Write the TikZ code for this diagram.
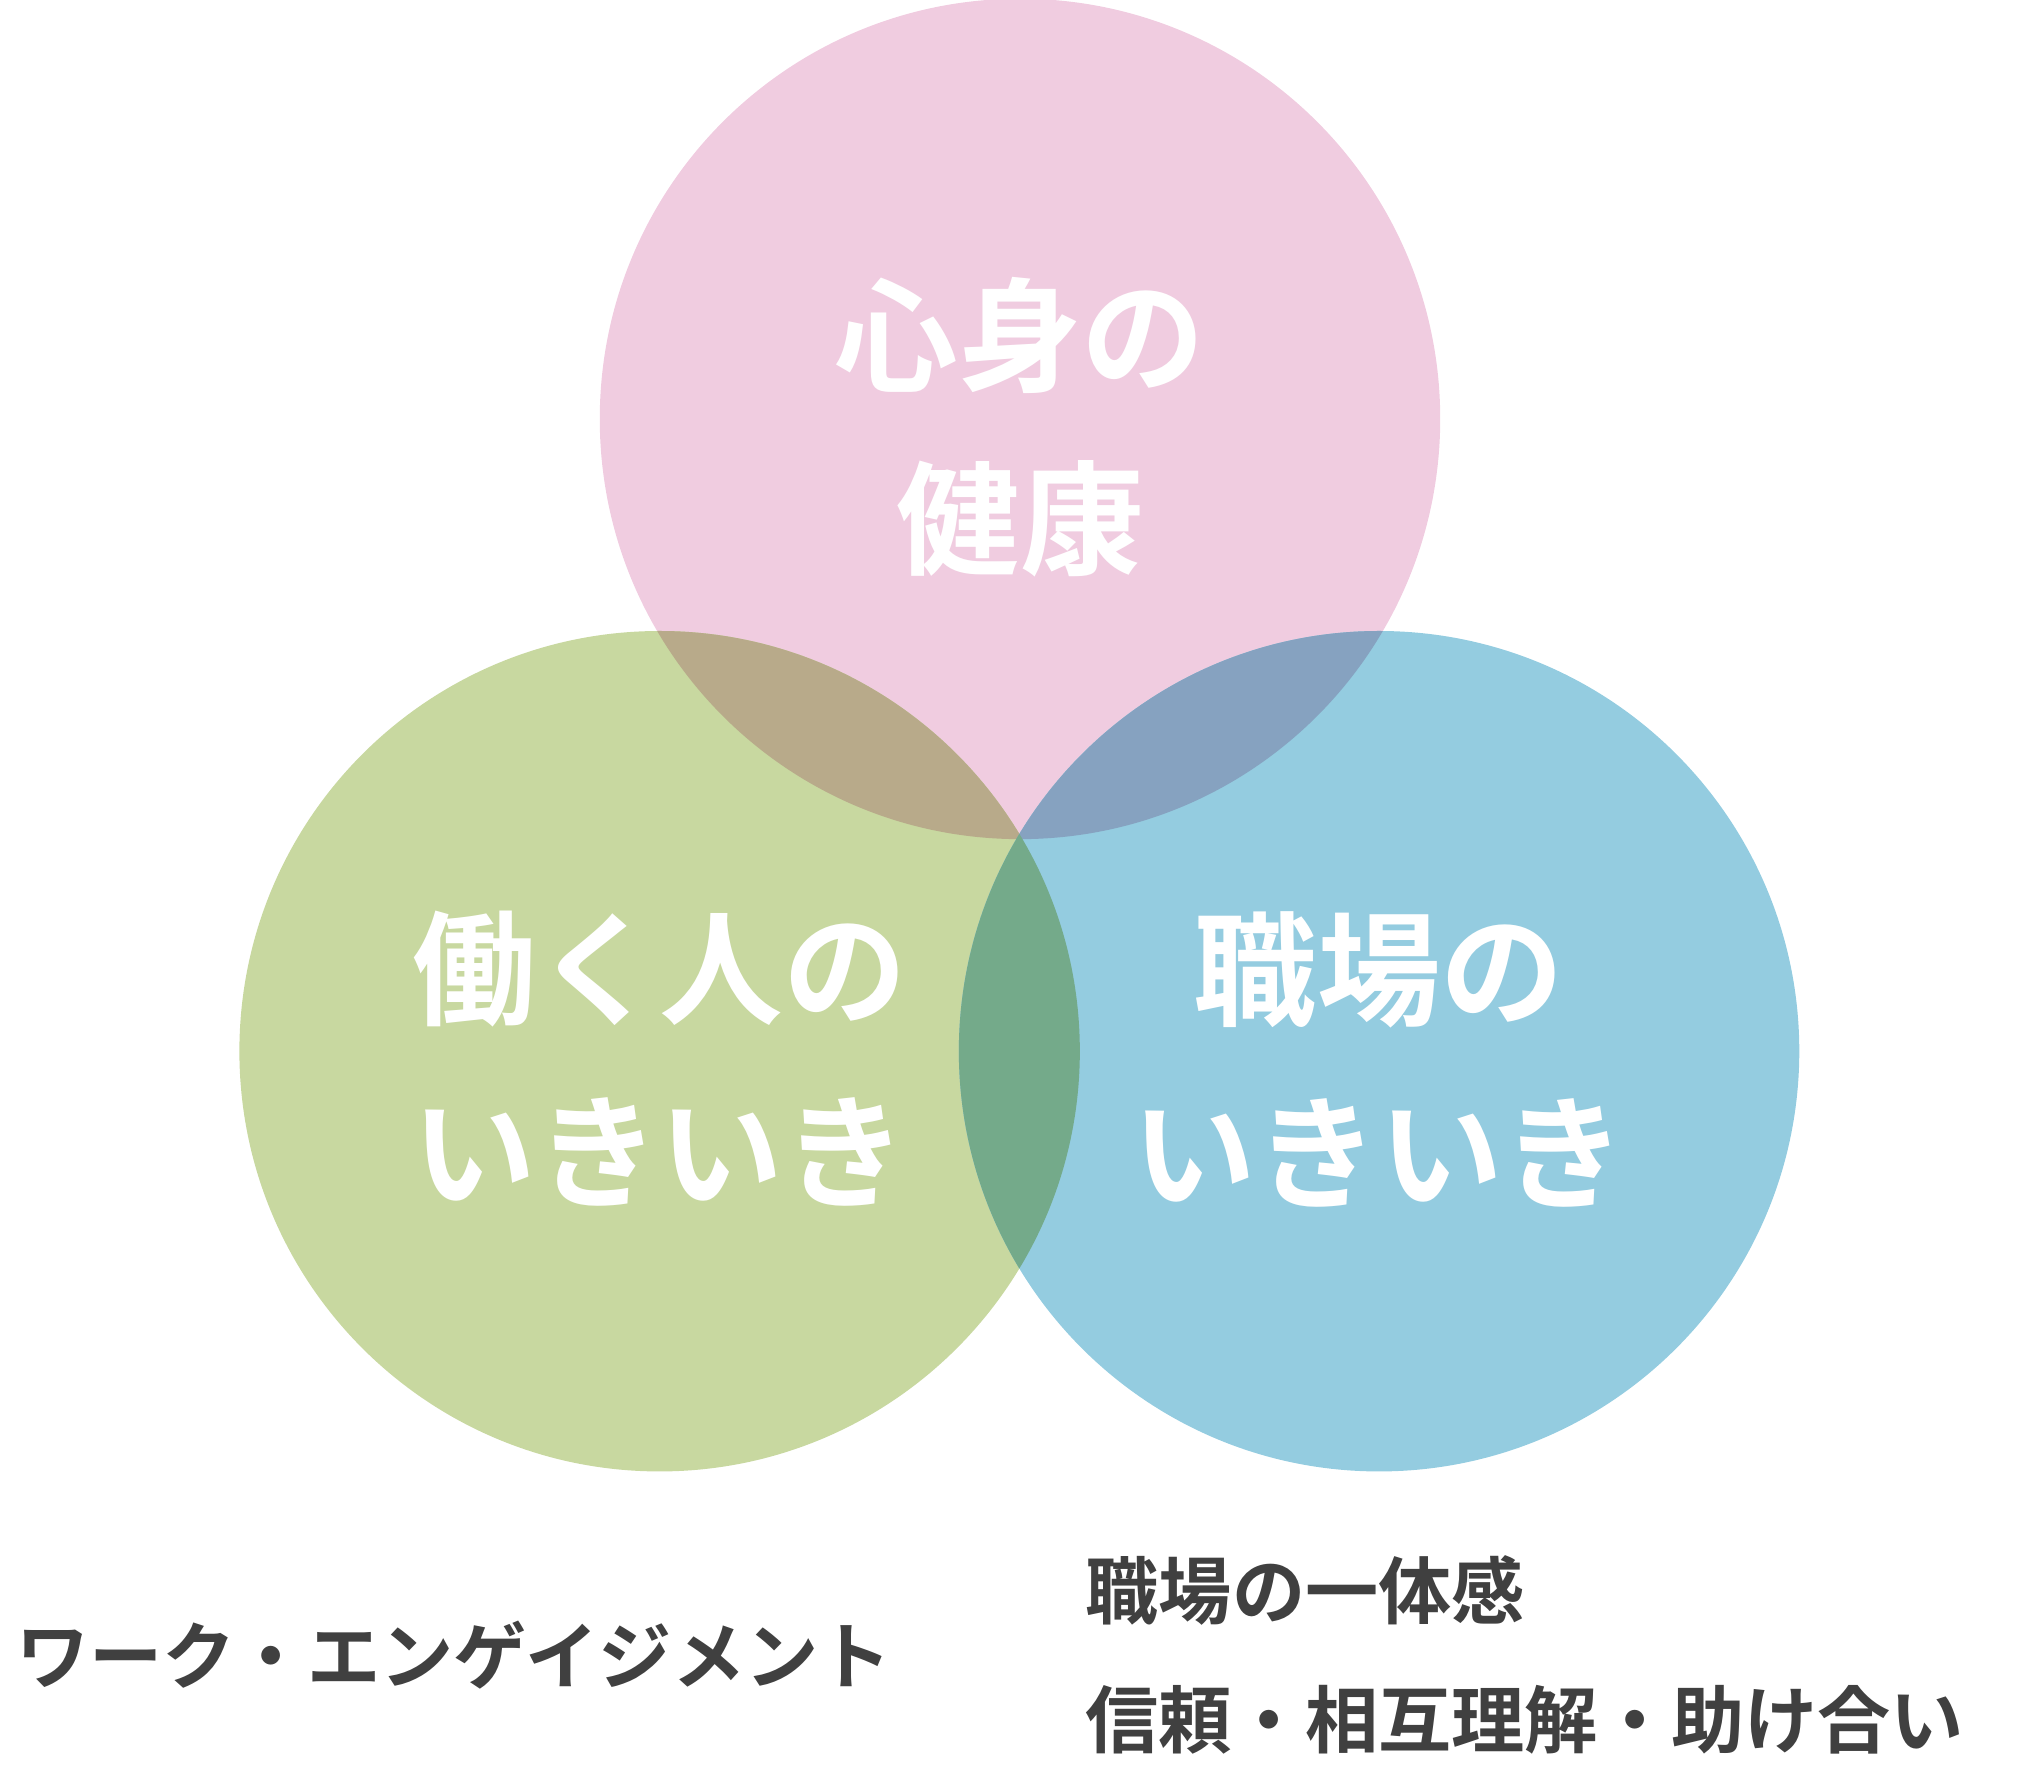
\documentclass[tikz,border=0pt]{standalone}
\usepackage{fontspec}
\newfontfamily\cjk{Noto Sans CJK JP Bold}
\definecolor{pinkc}{HTML}{F0CCE0}
\definecolor{greenc}{HTML}{C8D8A0}
\definecolor{bluec}{HTML}{94CCE0}
\definecolor{pgc}{HTML}{B8AA8A}
\definecolor{pbc}{HTML}{86A2C0}
\definecolor{gbc}{HTML}{74AA8A}
\definecolor{textc}{HTML}{404040}
\tikzset{
  title/.style={text=white, font=\cjk\fontsize{27}{40}\selectfont, align=center},
  caption/.style={text=textc, font=\cjk\fontsize{16}{28}\selectfont, anchor=west, align=left}
}
\begin{document}
\begin{tikzpicture}[x=0.01cm,y=-0.01cm]
  \useasboundingbox (0,0) rectangle (1568,1358);
  % circles
  \fill [pinkc] (784,322) circle (323);
  \fill [greenc] (507,808) circle (323);
  \fill [bluec] (1060,808) circle (323);
  % overlaps
  \begin{scope}
    \clip (784,322) circle (323);
    \fill [pgc] (507,808) circle (323);
    \fill [pbc] (1060,808) circle (323);
  \end{scope}
  \begin{scope}
    \clip (507,808) circle (323);
    \fill [gbc] (1060,808) circle (323);
  \end{scope}

  \node [title] (health) at (784,328) {心身の\\健康};
  \node [title] (person) at (507,814) {働く人の\\いきいき};
  \node [title] (work) at (1060,814) {職場の\\いきいき};

  \node [caption] (engage) at (0,1272) {ワーク・エンゲイジメント};
  \node [caption] (unity) at (822,1272) {職場の一体感\\信頼・相互理解・助け合い};
\end{tikzpicture}
\end{document}
